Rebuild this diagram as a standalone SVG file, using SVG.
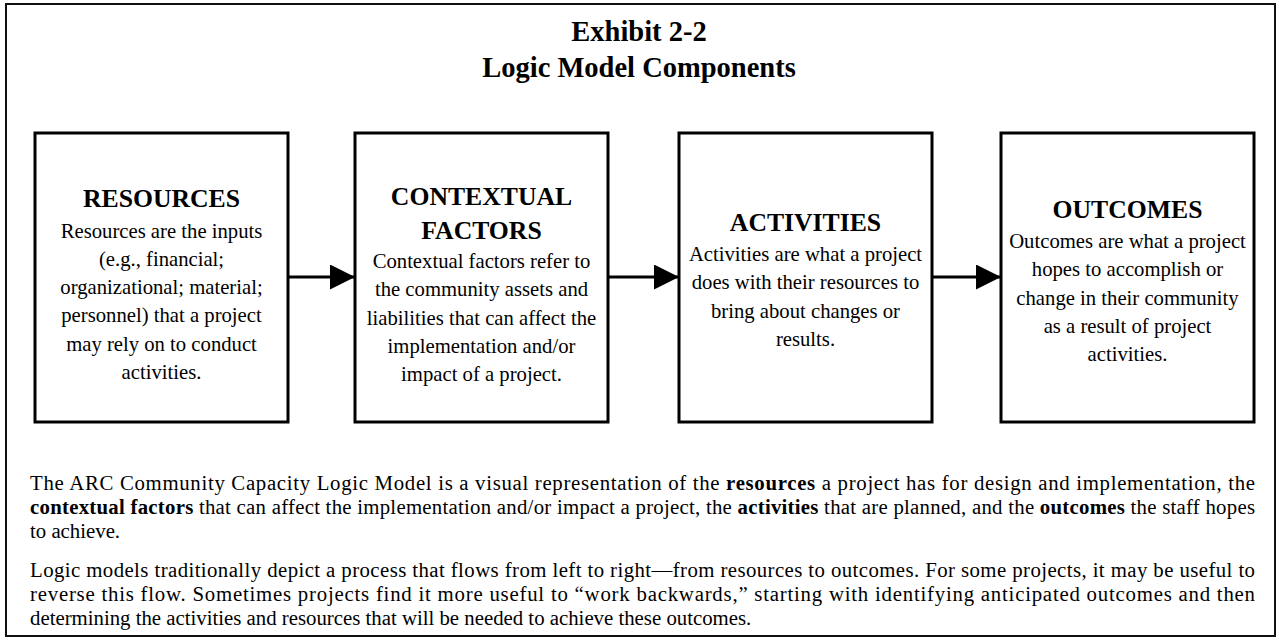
<svg xmlns="http://www.w3.org/2000/svg" width="1279" height="640" viewBox="0 0 1279 640">
<style>
  .frame { fill: #fff; stroke: #111; stroke-width: 2; }
  .box { fill: #fff; stroke: #000; stroke-width: 3; }
  .title { font-family: "Liberation Serif", "Times New Roman", serif; font-weight: bold; font-size: 28.5px; text-anchor: middle; fill: #000; }
  .head { font-family: "Liberation Serif", "Times New Roman", serif; font-weight: bold; font-size: 25.7px; text-anchor: middle; fill: #000; }
  .body { font-family: "Liberation Serif", "Times New Roman", serif; font-size: 20.7px; text-anchor: middle; fill: #000; }
  .para { font-family: "Liberation Serif", "Times New Roman", serif; font-size: 20.8px; fill: #000; }
  .b { font-weight: bold; }
  .conn { stroke: #000; stroke-width: 3; fill: none; }
</style>
<defs>
  <marker id="arrow" markerUnits="userSpaceOnUse" markerWidth="26" markerHeight="26" refX="25" refY="12.5" orient="auto">
    <path d="M0,0 L25,12.5 L0,25 Z" fill="#000"/>
  </marker>
</defs>
<rect class="frame" x="6" y="4" width="1269" height="632"/>
<g id="title">
  <text class="title" x="639" y="41">Exhibit 2-2</text>
  <text class="title" x="639" y="77">Logic Model Components</text>
</g>
<g id="connectors">
  <line class="conn" x1="288" y1="277" x2="355" y2="277" marker-end="url(#arrow)"/>
  <line class="conn" x1="608" y1="277" x2="679" y2="277" marker-end="url(#arrow)"/>
  <line class="conn" x1="932" y1="277" x2="1001" y2="277" marker-end="url(#arrow)"/>
</g>
<g id="resources">
  <rect class="box" x="35" y="133" width="253" height="289"/>
  <text class="head" x="161.5" y="207">RESOURCES</text>
  <text class="body" x="161.5" y="237.5">Resources are the inputs</text>
  <text class="body" x="161.5" y="265.8">(e.g., financial;</text>
  <text class="body" x="161.5" y="294.1">organizational; material;</text>
  <text class="body" x="161.5" y="322.4">personnel) that a project</text>
  <text class="body" x="161.5" y="350.7">may rely on to conduct</text>
  <text class="body" x="161.5" y="379">activities.</text>
</g>
<g id="contextual-factors">
  <rect class="box" x="355" y="133" width="253" height="289"/>
  <text class="head" x="481.5" y="205">CONTEXTUAL</text>
  <text class="head" x="481.5" y="239">FACTORS</text>
  <text class="body" x="481.5" y="268">Contextual factors refer to</text>
  <text class="body" x="481.5" y="296.3">the community assets and</text>
  <text class="body" x="481.5" y="324.6">liabilities that can affect the</text>
  <text class="body" x="481.5" y="352.9">implementation and/or</text>
  <text class="body" x="481.5" y="381.2">impact of a project.</text>
</g>
<g id="activities">
  <rect class="box" x="679" y="133" width="253" height="289"/>
  <text class="head" x="805.5" y="231">ACTIVITIES</text>
  <text class="body" x="805.5" y="261">Activities are what a project</text>
  <text class="body" x="805.5" y="289.3">does with their resources to</text>
  <text class="body" x="805.5" y="317.6">bring about changes or</text>
  <text class="body" x="805.5" y="345.9">results.</text>
</g>
<g id="outcomes">
  <rect class="box" x="1001" y="133" width="253" height="289"/>
  <text class="head" x="1127.5" y="218">OUTCOMES</text>
  <text class="body" x="1127.5" y="248">Outcomes are what a project</text>
  <text class="body" x="1127.5" y="276.3">hopes to accomplish or</text>
  <text class="body" x="1127.5" y="304.6">change in their community</text>
  <text class="body" x="1127.5" y="332.9">as a result of project</text>
  <text class="body" x="1127.5" y="361.2">activities.</text>
</g>
<g id="description">
  <text class="para" x="30" y="490" textLength="1225" lengthAdjust="spacing">The ARC Community Capacity Logic Model is a visual representation of the <tspan class="b">resources</tspan> a project has for design and implementation, the</text>
  <text class="para" x="30" y="514" textLength="1225" lengthAdjust="spacing"><tspan class="b">contextual factors</tspan> that can affect the implementation and/or impact a project, the <tspan class="b">activities</tspan> that are planned, and the <tspan class="b">outcomes</tspan> the staff hopes</text>
  <text class="para" x="30" y="538">to achieve.</text>
  <text class="para" x="30" y="577" textLength="1225" lengthAdjust="spacing">Logic models traditionally depict a process that flows from left to right—from resources to outcomes.  For some projects, it may be useful to</text>
  <text class="para" x="30" y="601" textLength="1225" lengthAdjust="spacing">reverse this flow.  Sometimes projects find it more useful to “work backwards,” starting with identifying anticipated outcomes and then</text>
  <text class="para" x="30" y="625">determining the activities and resources that will be needed to achieve these outcomes.</text>
</g>
</svg>
